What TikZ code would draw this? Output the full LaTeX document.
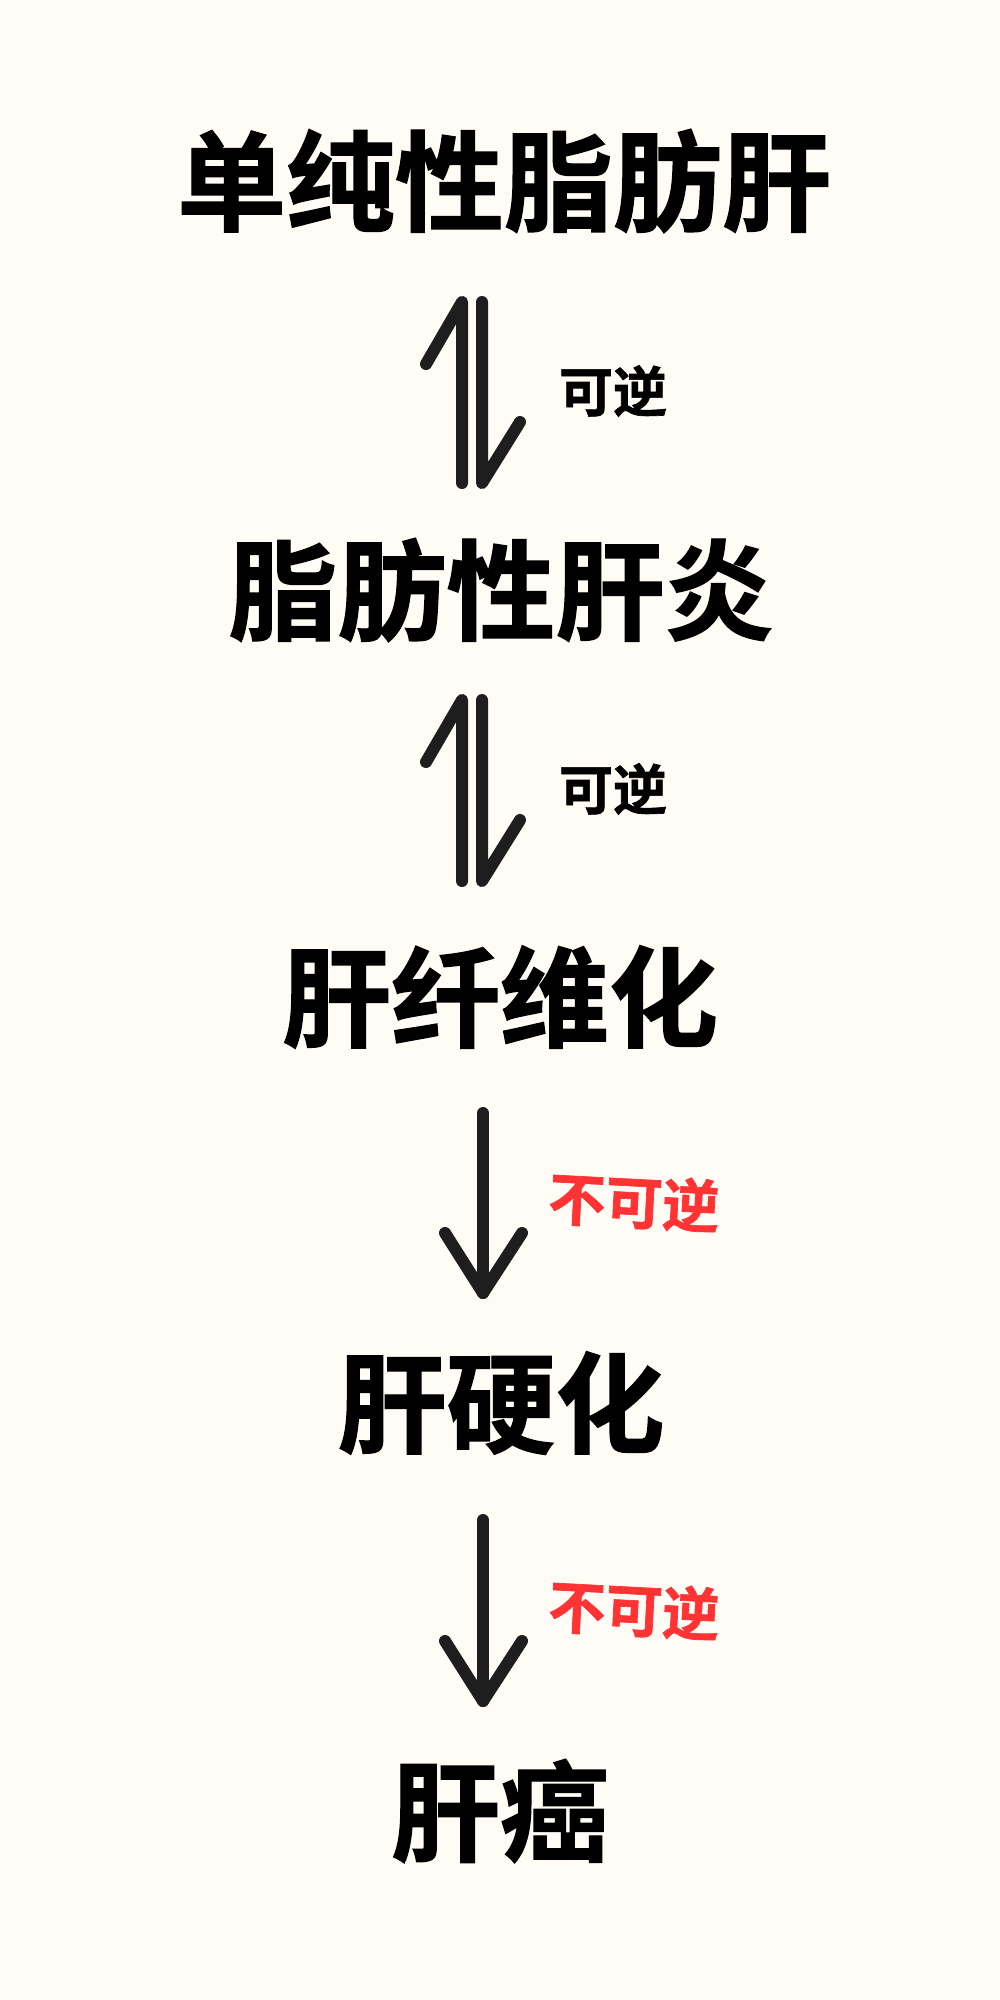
\documentclass[tikz,border=0pt]{standalone}
\usepackage{fontspec}
\newfontfamily\cjk{Noto Sans CJK SC}[BoldFont={Noto Sans CJK SC Bold},BoldFeatures={FakeBold=1.2}]
\definecolor{bg}{HTML}{FFFCF5}
\definecolor{ink}{HTML}{1E1E1E}
\definecolor{redlab}{HTML}{FF3333}
\tikzset{
  stage/.style={font={\cjk\bfseries\fontsize{109}{112}\selectfont}, text=black, inner sep=0pt},
  revlab/.style={font={\cjk\bfseries\fontsize{54}{58}\selectfont}, text=black, inner sep=0pt},
  irrlab/.style={font={\cjk\bfseries\fontsize{57}{60}\selectfont}, text=redlab, inner sep=0pt},
  arr/.style={draw=ink, line width=12pt, line cap=round, line join=round}
}
\begin{document}
\begin{tikzpicture}[x=1pt,y=-1pt]
\fill[bg] (0,0) rectangle (1000,2000);
\useasboundingbox (0,0) rectangle (1000,2000);

\node[stage] (t1) at (504,181) {单纯性脂肪肝};
\node[stage] (t2) at (501,590) {脂肪性肝炎};
\node[stage] (t3) at (500,997) {肝纤维化};
\node[stage] (t4) at (501,1403) {肝硬化};
\node[stage] (t5) at (500,1811) {肝癌};

% reversible 1
\coordinate (r1a) at (462,483); \coordinate (r1b) at (462,302); \coordinate (r1c) at (426,364);
\coordinate (r1d) at (482,302); \coordinate (r1e) at (482,483); \coordinate (r1f) at (520,422);
\draw[arr] (r1a) -- (r1b) -- (r1c);
\draw[arr] (r1d) -- (r1e) -- (r1f);
\node[revlab] (l1) at (613,391) {可逆};

% reversible 2
\coordinate (r2a) at (462,881); \coordinate (r2b) at (462,700); \coordinate (r2c) at (426,762);
\coordinate (r2d) at (482,700); \coordinate (r2e) at (482,881); \coordinate (r2f) at (520,820);
\draw[arr] (r2a) -- (r2b) -- (r2c);
\draw[arr] (r2d) -- (r2e) -- (r2f);
\node[revlab] (l2) at (613,789) {可逆};

% irreversible 1
\coordinate (i1a) at (483,1113); \coordinate (i1b) at (483,1293);
\coordinate (i1l) at (445,1233); \coordinate (i1r) at (522,1233);
\draw[arr] (i1a) -- (i1b);
\draw[arr] (i1l) -- (i1b) -- (i1r);
\node[irrlab, rotate=-3] (l3) at (634,1202) {不可逆};

% irreversible 2
\coordinate (i2a) at (483,1520); \coordinate (i2b) at (483,1701);
\coordinate (i2l) at (445,1641); \coordinate (i2r) at (522,1641);
\draw[arr] (i2a) -- (i2b);
\draw[arr] (i2l) -- (i2b) -- (i2r);
\node[irrlab, rotate=-3] (l4) at (634,1610) {不可逆};
\end{tikzpicture}
\end{document}
